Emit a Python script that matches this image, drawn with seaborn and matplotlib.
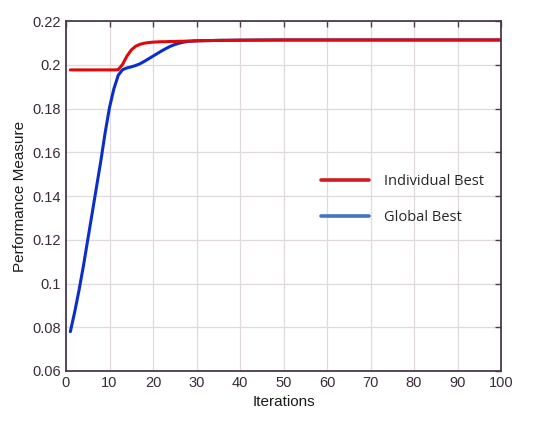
import numpy as np
import pandas as pd
import seaborn as sns
import matplotlib.pyplot as plt
from matplotlib.lines import Line2D

# Values
iters = [1, 2, 3, 4, 5, 6, 7, 8, 9, 10, 11, 12, 13, 14, 15, 16, 17, 18, 19, 20,
         21, 22, 23, 24, 25, 26, 27, 28, 29, 30, 35, 40, 50, 60, 70, 80, 90, 100]
global_best = [0.078, 0.087, 0.097, 0.108, 0.120, 0.132, 0.144, 0.156, 0.169, 0.1805,
               0.189, 0.1952, 0.1978, 0.1986, 0.1991, 0.1997, 0.2005, 0.2016, 0.2028, 0.2040,
               0.2052, 0.2064, 0.2075, 0.2085, 0.2093, 0.2099, 0.2104, 0.2107, 0.2109, 0.2110,
               0.2112, 0.2113, 0.2114, 0.2114, 0.2114, 0.2114, 0.2114, 0.2114]
individual_best = [0.1977, 0.1977, 0.1977, 0.1977, 0.1977, 0.1977, 0.1977, 0.1977, 0.1977, 0.1977,
                   0.1977, 0.1978, 0.2002, 0.2040, 0.2068, 0.2085, 0.2094, 0.2099, 0.2102, 0.2104,
                   0.2105, 0.2106, 0.2106, 0.2107, 0.2107, 0.2108, 0.2108, 0.2109, 0.2109, 0.2110,
                   0.2112, 0.2113, 0.2114, 0.2114, 0.2114, 0.2114, 0.2114, 0.2114]
x_ticks = list(range(0, 101, 10))
y_ticks = [0.06, 0.08, 0.1, 0.12, 0.14, 0.16, 0.18, 0.2, 0.22]
y_labels = ["0.06", "0.08", "0.1", "0.12", "0.14", "0.16", "0.18", "0.2", "0.22"]

df = pd.DataFrame({"Iterations": iters,
                   "Individual Best": individual_best,
                   "Global Best": global_best})

sns.set_style("white")
plt.rcParams['font.family'] = ['Liberation Sans', 'DejaVu Sans']
edge = "#4a3a4a"

fig, ax = plt.subplots(figsize=(5.5, 4.23), dpi=100)
fig.subplots_adjust(left=0.12, right=0.911, bottom=0.123, top=0.95)

sns.lineplot(data=df, x="Iterations", y="Global Best", color="#0a2fc8", lw=2.2, ax=ax)
sns.lineplot(data=df, x="Iterations", y="Individual Best", color="#dd0a0a", lw=2.2, ax=ax)

ax.set_xlim(0, 100)
ax.set_ylim(0.06, 0.22)
ax.set_xticks(x_ticks)
ax.set_yticks(y_ticks)
ax.set_yticklabels(y_labels)
ax.grid(True, color="#e0dae0", lw=0.9)
ax.tick_params(direction="in", top=True, right=True, length=4, width=1,
               colors=edge, labelsize=10.5, labelcolor="#3a2a3a")
for s in ax.spines.values():
    s.set_color(edge)
    s.set_linewidth(1.3)

ax.set_xlabel("Iterations", fontsize=11, color="#1a1a1a")
ax.set_ylabel("Performance Measure", fontsize=11, color="#1a1a1a")

handles = [Line2D([], [], color="#d01c1c", lw=2.6),
           Line2D([], [], color="#4472c4", lw=2.6)]
ax.legend(handles, ["Individual Best", "Global Best"], loc="upper left",
          bbox_to_anchor=(0.556, 0.600), frameon=False, handlelength=3.3,
          handletextpad=1.05, labelspacing=1.4,
          prop={"family": ["Open Sans", "DejaVu Sans"], "size": 10.5})

plt.savefig("out.png", dpi=100)
